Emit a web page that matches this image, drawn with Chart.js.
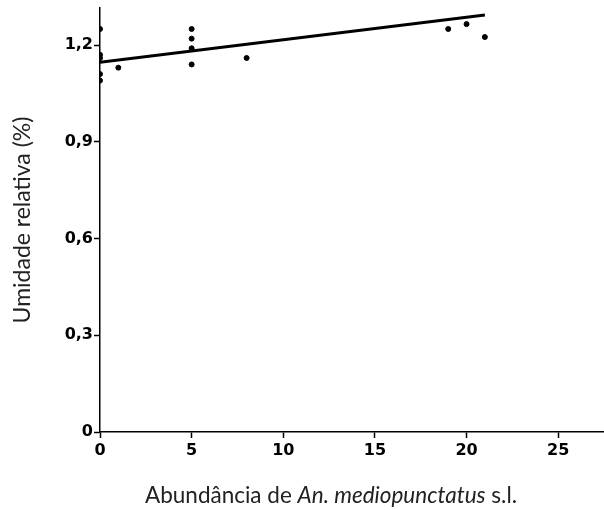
<!DOCTYPE html>
<html>
<head>
<meta charset="utf-8">
<script src="https://cdn.jsdelivr.net/npm/chart.js@4"></script>
<style>
  body { margin: 0; background: #fff; }
  #wrap { position: relative; width: 604px; height: 510px; overflow: hidden; }
  #xtitle {
    position: absolute; left: 131px; width: 400px; top: 481px;
    text-align: center; font-family: Lato, sans-serif; font-size: 22.5px; color: #222;
    white-space: nowrap;
  }
</style>
</head>
<body>
<div id="wrap">
  <canvas id="chart" width="604" height="510"></canvas>
  <div id="xtitle">Abundância de <i>An. mediopunctatus</i> s.l.</div>
</div>
<script>
// observed points
const abundance = [0, 0, 0, 0, 0, 1, 5, 5, 5, 5, 8, 19, 20, 21];
const humidity = [1.25, 1.17, 1.16, 1.11, 1.09, 1.13, 1.25, 1.22, 1.19, 1.14, 1.16, 1.25, 1.265, 1.225];

// fitted line (ends)
const fitX = [0, 21];
const fitY = [1.147, 1.293];

const xTicks = [0, 5, 10, 15, 20, 25];
const yTicks = [0, 0.3, 0.6, 0.9, 1.2];

const chart = document.querySelector("#chart").getContext('2d');

const tickFont = { family: "DejaVu Sans", size: 16, weight: 'bold' };

new Chart(chart, {
    type: 'scatter',
    data: {
        datasets: [
            {
                label: "pontos",
                data: abundance.map((x, i) => ({ x: x, y: humidity[i] })),
                backgroundColor: '#000',
                borderColor: '#000',
                pointRadius: 2.5,
                showLine: false
            },
            {
                label: "regressão",
                data: fitX.map((x, i) => ({ x: x, y: fitY[i] })),
                borderColor: '#000',
                borderWidth: 3,
                pointRadius: 0,
                showLine: true
            }
        ]
    },
    options: {
        responsive: false,
        animation: false,
        layout: { autoPadding: false, padding: { top: 8, right: 0, bottom: 0, left: 0 } },
        plugins: { legend: { display: false }, tooltip: { enabled: false } },
        scales: {
            x: {
                type: 'linear',
                min: 0,
                max: 27.5,
                afterBuildTicks: (s) => { s.ticks = xTicks.map(v => ({ value: v })); },
                afterFit: (s) => { s.height = 78; s.paddingRight = 0; s.paddingLeft = 0; },
                grid: { drawOnChartArea: false, color: '#000', tickLength: 6, tickWidth: 1.5 },
                border: { color: '#000', width: 1.5 },
                ticks: { color: '#000', font: tickFont, padding: 3, maxRotation: 0 }
            },
            y: {
                min: 0,
                max: 1.315,
                afterBuildTicks: (s) => { s.ticks = yTicks.map(v => ({ value: v })); },
                afterFit: (s) => { s.width = 100; s.paddingTop = 0; s.paddingBottom = 0; },
                grid: { drawOnChartArea: false, color: '#000', tickLength: 6, tickWidth: 1.5 },
                border: { color: '#000', width: 1.5 },
                ticks: {
                    color: '#000', font: tickFont, padding: 1,
                    callback: (v) => v === 0 ? '0' : v.toFixed(1).replace('.', ',')
                },
                title: {
                    display: true,
                    text: 'Umidade relativa (%)',
                    color: '#222',
                    font: { family: "Lato", size: 23 },
                    padding: { top: 9, bottom: 0 }
                }
            }
        }
    }
});
</script>
</body>
</html>
